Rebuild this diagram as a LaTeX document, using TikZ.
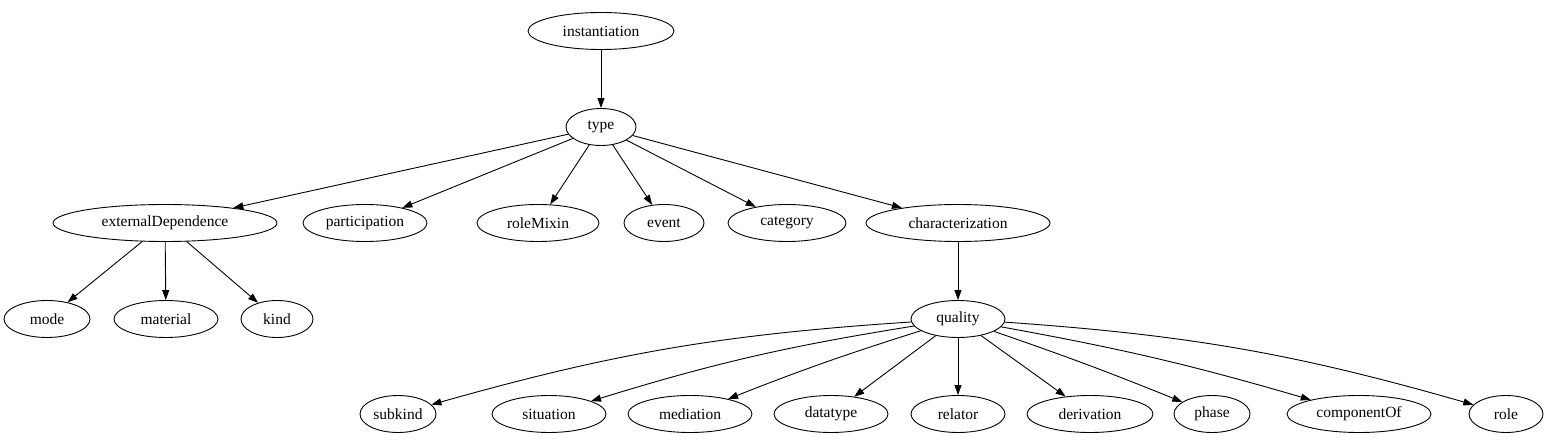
\documentclass[tikz,border=0pt]{standalone}
\usepackage{fontspec}
\setmainfont{Liberation Serif}
\usetikzlibrary{shapes.geometric,arrows.meta}
\begin{document}
\begin{tikzpicture}[x=1pt,y=-1pt,
  nd/.style={draw,ellipse,inner sep=0pt,minimum height=37pt,font=\fontsize{15.5}{17}\selectfont,line width=0.9pt},
  edge/.style={draw,line width=0.9pt,-{Triangle[length=10pt,width=7pt]}}]
\useasboundingbox (0,0) rectangle (1555,443);
\node[nd,minimum width=146pt] (inst) at (601,31) {instantiation};
\node[nd,minimum width=70pt] (type) at (601,127) {type};
\node[nd,minimum width=224pt] (ext) at (165,223) {externalDependence};
\node[nd,minimum width=124pt] (part) at (365,223) {participation};
\node[nd,minimum width=122pt] (rolemix) at (538,223) {roleMixin};
\node[nd,minimum width=80pt] (event) at (664,223) {event};
\node[nd,minimum width=118pt] (cat) at (787,223) {category};
\node[nd,minimum width=184pt] (char) at (958,223) {characterization};
\node[nd,minimum width=86pt] (mode) at (47,319) {mode};
\node[nd,minimum width=104pt] (mat) at (166,319) {material};
\node[nd,minimum width=72pt] (kind) at (277,319) {kind};
\node[nd,minimum width=94pt] (qual) at (958,319) {quality};
\node[nd,minimum width=76pt] (subk) at (398,414) {subkind};
\node[nd,minimum width=114pt] (sit) at (549,414) {situation};
\node[nd,minimum width=124pt] (med) at (690,414) {mediation};
\node[nd,minimum width=114pt] (dt) at (831,414) {datatype};
\node[nd,minimum width=94pt] (rel) at (958,414) {relator};
\node[nd,minimum width=126pt] (der) at (1090,414) {derivation};
\node[nd,minimum width=76pt] (phase) at (1212,414) {phase};
\node[nd,minimum width=144pt] (comp) at (1359,414) {componentOf};
\node[nd,minimum width=74pt] (role) at (1506,414) {role};
\path[edge] (inst) -- (type);
\path[edge] (type) -- (ext);
\path[edge] (type) -- (part);
\path[edge] (type) -- (rolemix);
\path[edge] (type) -- (event);
\path[edge] (type) -- (cat);
\path[edge] (type) -- (char);
\path[edge] (ext) -- (mode);
\path[edge] (ext) -- (mat);
\path[edge] (ext) -- (kind);
\path[edge] (char) -- (qual);
\path[edge] (qual) to[bend right=6] (subk);
\path[edge] (qual) to[bend right=4] (sit);
\path[edge] (qual) to[bend right=2] (med);
\path[edge] (qual) -- (dt);
\path[edge] (qual) -- (rel);
\path[edge] (qual) -- (der);
\path[edge] (qual) to[bend left=1.5] (phase);
\path[edge] (qual) to[bend left=3] (comp);
\path[edge] (qual) to[bend left=6] (role);
\end{tikzpicture}
\end{document}
